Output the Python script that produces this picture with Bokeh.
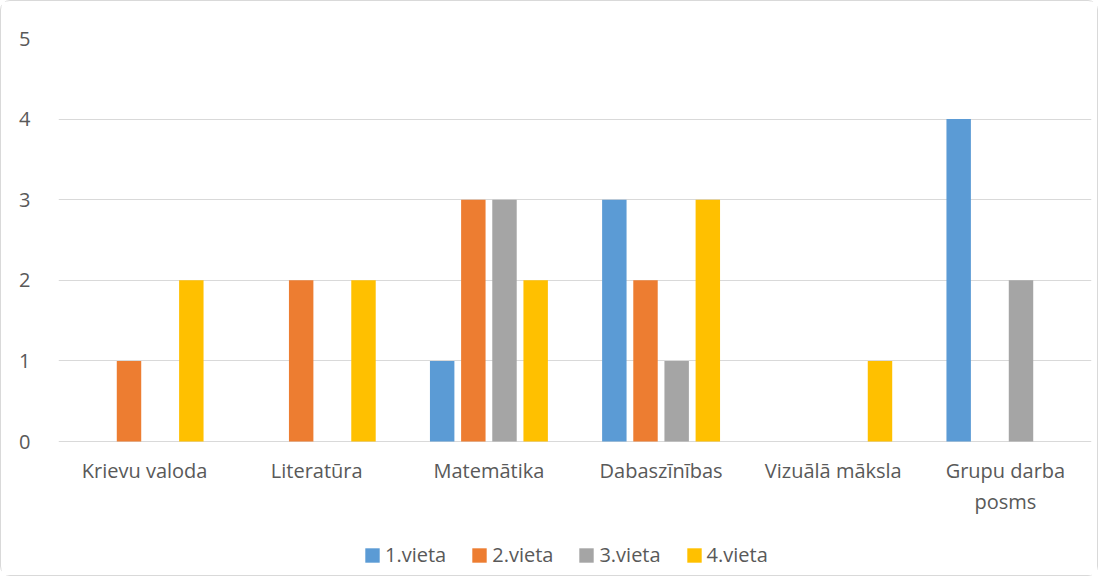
from bokeh.plotting import figure
from bokeh.models import (ColumnDataSource, FactorRange, Legend, LegendItem, Range1d, FixedTicker)
from bokeh.transform import dodge
from bokeh.core.properties import value
from bokeh.embed import file_html
from bokeh.resources import INLINE

categories = ["Krievu valoda", "Literatūra", "Matemātika", "Dabaszīnības", "Vizuālā māksla", "Grupu darba posms"]
category_labels = ["Krievu valoda", "Literatūra", "Matemātika", "Dabaszīnības", "Vizuālā māksla", "Grupu darba\nposms"]
series_names = ["1.vieta", "2.vieta", "3.vieta", "4.vieta"]
vieta1 = [0, 0, 1, 3, 0, 4]
vieta2 = [1, 2, 3, 2, 0, 0]
vieta3 = [0, 0, 3, 1, 0, 2]
vieta4 = [2, 2, 2, 3, 1, 0]
y_ticks = [0, 1, 2, 3, 4, 5]

colors = ["#5B9BD5", "#ED7D31", "#A5A5A5", "#FFC000"]
offsets = [-0.2715, -0.0905, 0.0905, 0.2715]

source = ColumnDataSource(data=dict(cat=categories, lab=category_labels, zero=[0] * len(categories),
                                    v1=vieta1, v2=vieta2, v3=vieta3, v4=vieta4))

FONT = "Open Sans"
TXT = "#595959"
FS = "20px"

W, H = 1098, 576
TOP, AXIS_Y = 37, 440          # pixel rows of value 5 and value 0 inside the canvas
ppu = (AXIS_Y - TOP) / 5.0
y_start = -(H - AXIS_Y) / ppu

p = figure(width=W, height=H, x_range=FactorRange(*categories, range_padding=0),
           y_range=Range1d(y_start, 5), output_backend="svg", toolbar_location=None,
           x_axis_location=None,
           min_border_left=57, min_border_right=8, min_border_top=TOP, min_border_bottom=0)
p.x_range.factor_padding = 0
p.styles = {"border": "1px solid #D9D9D9", "border-radius": "10px"}
p.outline_line_color = None
p.background_fill_color = "white"
p.border_fill_color = "white"

renderers = []
for col, c, off in zip(["v1", "v2", "v3", "v4"], colors, offsets):
    r = p.vbar(x=dodge("cat", off, range=p.x_range), top=col, width=0.142, source=source,
               fill_color=c, line_color=None)
    renderers.append(r)

p.xgrid.grid_line_color = None
p.ygrid.grid_line_color = "#D9D9D9"
p.ygrid.grid_line_width = 1
p.yaxis.ticker = FixedTicker(ticks=y_ticks)
p.yaxis.axis_line_color = None
p.yaxis.major_tick_line_color = None
p.yaxis.minor_tick_line_color = None
p.yaxis.major_label_standoff = 22
p.yaxis.major_label_text_font = FONT
p.yaxis.major_label_text_font_size = FS
p.yaxis.major_label_text_color = TXT

# category labels under the baseline
p.text(x="cat", y="zero", text="lab", source=source, y_offset=15,
       text_align="center", text_baseline="top", text_font=value(FONT),
       text_font_size=FS, text_color=TXT, text_line_height=1.18)

legend = Legend(items=[LegendItem(label=n, renderers=[r]) for n, r in zip(series_names, renderers)],
                orientation="horizontal", location=(305, 9),
                glyph_width=18, glyph_height=18, label_standoff=4, spacing=24,
                padding=0, margin=0, border_line_color=None, background_fill_alpha=0,
                label_text_font=FONT, label_text_font_size=FS, label_text_color=TXT)
p.add_layout(legend, "center")

open("out.html", "w").write(file_html(p, INLINE))
